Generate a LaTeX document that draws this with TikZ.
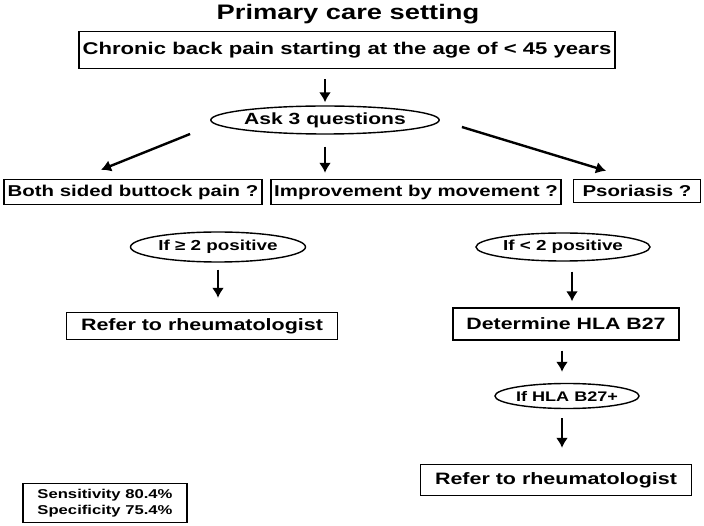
\documentclass[tikz,border=0pt]{standalone}
\usepackage{fontspec}
\setmainfont{Liberation Sans}[FakeStretch=1.3]
\usetikzlibrary{arrows.meta}
\usetikzlibrary{calc}
\usetikzlibrary{shapes.geometric}

\begin{document}
\begin{tikzpicture}[x=1pt, y=-1pt,
    box/.style={draw, line width=1.4pt, rectangle, inner sep=0pt, font=\bfseries\fontsize{15.7pt}{18pt}\selectfont},
    oval/.style={draw, line width=1.4pt, ellipse, inner sep=0pt, font=\bfseries\fontsize{14.5pt}{17pt}\selectfont},
    arrow/.style={-{Latex[length=10pt, width=12pt]}, line width=2.4pt}]

  % page size
  \useasboundingbox (0, 0) rectangle (704, 526);

  % title and start
  \node at (348, 14) (title) [font=\bfseries\fontsize{21pt}{24pt}\selectfont] {Primary care setting};
  \node at (347, 50) (chronic) [box, minimum width=536pt, minimum height=37pt, font=\bfseries\fontsize{17pt}{20pt}\selectfont] {Chronic back pain starting at the age of < 45 years};
  \node at (325, 120) (ask) [oval, minimum width=173pt, minimum height=28pt, font=\bfseries\fontsize{16.2pt}{19pt}\selectfont] {Ask 3 questions};

  % the three questions
  \node at (133, 192) (buttock) [box, minimum width=258pt, minimum height=25pt] {Both sided buttock pain ?};
  \node at (416, 192) (movement) [box, minimum width=290pt, minimum height=25pt] {Improvement by movement ?};
  \node at (637, 191) (psoriasis) [box, minimum width=127pt, minimum height=23pt] {Psoriasis ?};

  % left branch
  \node at (218, 247) (ifmany) [oval, minimum width=175pt, minimum height=30pt] {If ≥ 2 positive};
  \node at (202, 326) (referleft) [box, minimum width=271pt, minimum height=27pt, font=\bfseries\fontsize{16.5pt}{19pt}\selectfont] {Refer to rheumatologist};

  % right branch
  \node at (563, 247) (iffew) [oval, minimum width=174pt, minimum height=28pt] {If < 2 positive};
  \node at (566, 324) (hla) [box, minimum width=226pt, minimum height=32pt, font=\bfseries\fontsize{16.4pt}{19pt}\selectfont] {Determine HLA B27};
  \node at (567, 396) (ifhla) [oval, minimum width=142pt, minimum height=25pt, font=\bfseries\fontsize{13.9pt}{16pt}\selectfont] {If HLA B27+};
  \node at (556, 480) (referright) [box, minimum width=271pt, minimum height=31pt, font=\bfseries\fontsize{16.5pt}{19pt}\selectfont] {Refer to rheumatologist};

  % test values
  \node at (105, 503) (stats) [box, minimum width=164pt, minimum height=39pt, align=left, font=\bfseries\fontsize{12.8pt}{16pt}\selectfont] {Sensitivity 80.4\%\\Specificity 75.4\%};

  % arrows
  \draw [arrow, shorten <=10pt, shorten >=3pt] (ask.north |- chronic.south) -- (ask.north);
  \draw [arrow] ([xshift=-20pt, yshift=-14pt] ask.west) -- ([xshift=-32pt, yshift=9pt] buttock.north);
  \draw [arrow, shorten <=12pt, shorten >=6pt] (ask.south) -- (ask.south |- movement.north);
  \draw [arrow] ([xshift=22pt, yshift=-7pt] ask.east) -- ([xshift=-31pt, yshift=8pt] psoriasis.north);
  \draw [arrow, shorten <=7pt, shorten >=14pt] (ifmany.south) -- (ifmany.south |- referleft.north);
  \draw [arrow, shorten <=10pt, shorten >=6pt] ([xshift=9pt] iffew.south) -- ([xshift=9pt] iffew.south |- hla.north);
  \draw [arrow, shorten <=10pt, shorten >=11pt] ([xshift=-4pt] hla.south) -- ([xshift=-4pt] hla.south |- ifhla.north);
  \draw [arrow, shorten <=9pt, shorten >=16pt] ([xshift=-5pt] ifhla.south) -- ([xshift=-5pt] ifhla.south |- referright.north);

\end{tikzpicture}
\end{document}
